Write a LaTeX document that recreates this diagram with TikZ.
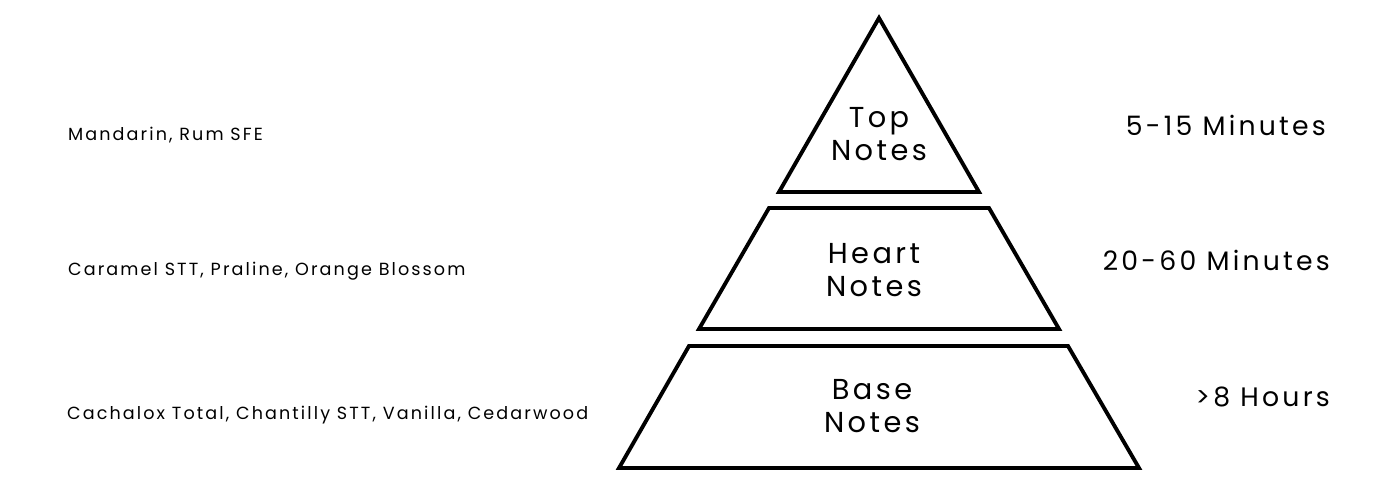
\documentclass[tikz,border=0pt]{standalone}
\usepackage{fontspec}
\setmainfont{Poppins}[LetterSpace=12]
\begin{document}
\begin{tikzpicture}[
        x=0.05cm,
        y=-0.05cm,
        layer/.style={
            draw,
            line width=5.5pt,
            line join=miter
        },
        note/.style={
            align=center,
            font=\fontsize{41}{48}\selectfont,
            inner sep=0pt
        },
        ingredient/.style={
            anchor=west,
            font=\fontsize{25}{30}\selectfont,
            inner sep=0pt
        },
        duration/.style={
            anchor=east,
            font=\fontsize{38}{48}\selectfont,
            inner sep=0pt
        }
    ]
    \useasboundingbox (0,0) rectangle (1400,495);

    % pyramid layers
    \draw[layer] (879,18) -- (979,192) -- (779,192) -- cycle;
    \draw[layer] (769,208) -- (989,208) -- (1059,329) -- (699,329) -- cycle;
    \draw[layer] (689,346) -- (1068,346) -- (1139,468) -- (619,468) -- cycle;

    \node[note] (top) at (879,134) {Top\\Notes};
    \node[note] (heart) at (874,270) {Heart\\Notes};
    \node[note] (base) at (872,406) {Base\\Notes};

    \node[ingredient] (topmix) at (68,135) {Mandarin, Rum SFE};
    \node[ingredient] (heartmix) at (68,271) {Caramel STT, Praline, Orange Blossom};
    \node[ingredient] (basemix) at (67,415) {Cachalox Total, Chantilly STT, Vanilla, Cedarwood};

    \node[duration] (toptime) at (1326,125) {5-15 Minutes};
    \node[duration] (hearttime) at (1330,260) {20-60 Minutes};
    \node[duration] (basetime) at (1330,397) {>8 Hours};

\end{tikzpicture}
\end{document}
